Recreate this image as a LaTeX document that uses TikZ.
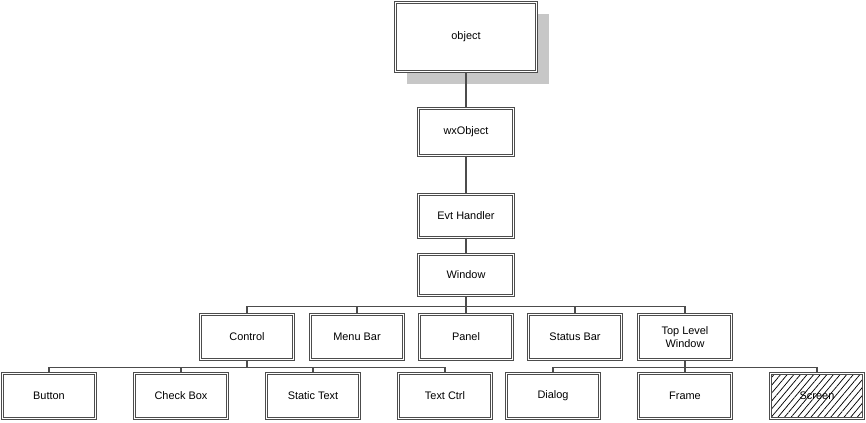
\documentclass[tikz,border=0pt]{standalone}
\usepackage{fontspec}
\setmainfont{Liberation Sans}
\usetikzlibrary{shadows,patterns.meta}
\tikzset{
  cls/.style={draw=black!70, double=white, double distance=0.8pt, line width=0.75pt,
    fill=white, minimum width=70pt, minimum height=34pt, inner sep=1pt,
    align=center, font=\fontsize{8.2}{10}\selectfont},
  link/.style={draw=black!70, line width=0.9pt},
}
\begin{document}
\begin{tikzpicture}[x=0.75pt,y=-0.75pt]
  \useasboundingbox (0,0) rectangle (866,422);
  % top of the tree
  \node[cls, minimum width=106pt, minimum height=52pt,
    drop shadow={shadow xshift=9pt, shadow yshift=-9pt, fill=black!22, opacity=1}] (obj) at (466,37) {object};
  \node[cls, minimum width=71.3pt, minimum height=34.7pt] (wxo) at (466,132) {wxObject};
  \node[cls, minimum width=71.3pt, minimum height=31.7pt] (evt) at (466,216) {Evt Handler};
  \node[cls, minimum width=71.3pt, minimum height=31pt] (win) at (466,275) {Window};
  % second row
  \node[cls] (ctl) at (247,337) {Control};
  \node[cls] (menu) at (357,337) {Menu Bar};
  \node[cls] (pnl) at (466,337) {Panel};
  \node[cls] (stat) at (575,337) {Status Bar};
  \node[cls] (tlw) at (685,337) {Top Level\\Window};
  % third row
  \node[cls] (btn) at (49,396) {Button};
  \node[cls] (chk) at (181,396) {Check Box};
  \node[cls] (stxt) at (313,396) {Static Text};
  \node[cls] (tctl) at (445,396) {Text Ctrl};
  \node[cls] (dlg) at (553,396) {Dialog};
  \node[cls] (frm) at (685,396) {Frame};
  \node[cls, pattern={Lines[angle=50,distance=3.8pt,line width=0.55pt]}] (scr) at (817,396) {Screen};
  % links
  \draw[link] (obj) -- (wxo);
  \draw[link] (wxo) -- (evt);
  \draw[link] (evt) -- (win);
  \draw[link] (win.south) -- ++(0,10) -| (ctl.north);
  \draw[link] (win.south) -- ++(0,10) -| (menu.north);
  \draw[link] (win.south) -- (pnl.north);
  \draw[link] (win.south) -- ++(0,10) -| (stat.north);
  \draw[link] (win.south) -- ++(0,10) -| (tlw.north);
  \draw[link] (ctl.south) -- ++(0,7) -| (btn.north);
  \draw[link] (ctl.south) -- ++(0,7) -| (chk.north);
  \draw[link] (ctl.south) -- ++(0,7) -| (stxt.north);
  \draw[link] (ctl.south) -- ++(0,7) -| (tctl.north);
  \draw[link] (tlw.south) -- ++(0,7) -| (dlg.north);
  \draw[link] (tlw.south) -- (frm.north);
  \draw[link] (tlw.south) -- ++(0,7) -| (scr.north);
\end{tikzpicture}
\end{document}
